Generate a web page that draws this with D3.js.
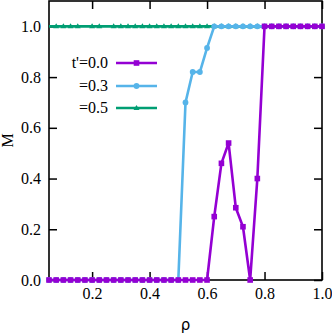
<!DOCTYPE html>
<html><head><meta charset="utf-8">
<script src="https://cdn.jsdelivr.net/npm/d3@7"></script>
<style>body{margin:0;background:#fff}svg{display:block}</style>
</head><body>
<svg id="c" width="332" height="335"></svg>
<script>
const rho = [0.05,0.075,0.1,0.125,0.15,0.175,0.2,0.225,0.25,0.275,0.3,0.325,0.35,0.375,0.4,0.425,0.45,0.475,0.5,0.525,0.55,0.575,0.6,0.625,0.65,0.675,0.7,0.725,0.75,0.775,0.8,0.825,0.85,0.875,0.9,0.925,0.95,0.975,1.0];
const m00 = [0,0,0,0,0,0,0,0,0,0,0,0,0,0,0,0,0,0,0,0,0,0,0,0.25,0.46,0.54,0.285,0.21,0,0.40,1,1,1,1,1,1,1,1,1];
const m03 = [0,0,0,0,0,0,0,0,0,0,0,0,0,0,0,0,0,0,0,0.70,0.82,0.82,0.915,1,1,1,1,1,1,1,1,1,1,1,1,1,1,1,1];
const m05 = [1,1,1,1,1,1,1,1,1,1,1,1,1,1,1,1,1,1,1,1,1,1,1,1,1,1,1,1,1,1,1,1,1,1,1,1,1,1,1];
const m05NoMarker = [0.05,0.175,0.25];
const xTicks = [0.2,0.4,0.6,0.8,1.0];
const yTicks = [0.0,0.2,0.4,0.6,0.8,1.0];
const legendLabels = ["t'=0.0","=0.3","=0.5"];

const W=332,H=335,ml=49,mr=10,mt=1,mb=55;
const SERIF="'Liberation Serif'";
const svg=d3.select("#c");
const x=d3.scaleLinear().domain([0.05,1.0]).range([ml,W-mr]);
const y=d3.scaleLinear().domain([0,1.1]).range([H-mb,mt]);

const series=[
  {vals:m05,color:"#009E73",shape:"tri",skip:m05NoMarker},
  {vals:m03,color:"#56B4E9",shape:"circ",skip:[]},
  {vals:m00,color:"#9400D3",shape:"sq",skip:[]}
];

function marker(g,shape,cx,cy,color){
  if(shape==="sq") g.append("rect").attr("x",cx-2.8).attr("y",cy-2.8).attr("width",5.6).attr("height",5.6).attr("fill",color);
  else if(shape==="circ") g.append("circle").attr("cx",cx).attr("cy",cy).attr("r",2.9).attr("fill",color);
  else g.append("path").attr("d",`M${cx-3},${cy+2}L${cx+3},${cy+2}L${cx},${cy-3}Z`).attr("fill",color);
}

const gx=svg.append("g").attr("transform",`translate(0,${H-mb})`)
  .call(d3.axisBottom(x).tickValues(xTicks).tickFormat(d3.format(".1f")).tickSizeInner(-8).tickSizeOuter(0).tickPadding(14));
const gxt=svg.append("g").attr("transform",`translate(0,${mt})`)
  .call(d3.axisTop(x).tickValues(xTicks).tickFormat("").tickSizeInner(-8).tickSizeOuter(0));
const gy=svg.append("g").attr("transform",`translate(${ml},0)`)
  .call(d3.axisLeft(y).tickValues(yTicks).tickFormat(d3.format(".1f")).tickSizeInner(-8).tickSizeOuter(0).tickPadding(8));
const gyr=svg.append("g").attr("transform",`translate(${W-mr},0)`)
  .call(d3.axisRight(y).tickValues(yTicks).tickFormat("").tickSizeInner(-8).tickSizeOuter(0));
[gx,gxt,gy,gyr].forEach(g=>{
  g.attr("font-family",SERIF).attr("font-size",16);
  g.select(".domain").remove();
  g.selectAll(".tick line").attr("stroke","#000").attr("stroke-width",1.5);
  g.selectAll("text").style("font-family",SERIF).style("font-size","16px").attr("fill","#000");
});
gx.selectAll("text").attr("dy","0.3em");
svg.append("rect").attr("x",ml).attr("y",mt).attr("width",W-mr-ml).attr("height",H-mb-mt)
  .attr("fill","none").attr("stroke","#000").attr("stroke-width",1.6);

const line=d3.line().x(d=>x(d[0])).y(d=>y(d[1]));
series.forEach(s=>{
  const pts=rho.map((r,i)=>[r,s.vals[i]]);
  svg.append("path").attr("d",line(pts)).attr("fill","none").attr("stroke",s.color).attr("stroke-width",2.6).attr("stroke-linejoin","round");
  const g=svg.append("g");
  pts.forEach(p=>{ if(!s.skip.includes(p[0])) marker(g,s.shape,x(p[0]),y(p[1]),s.color); });
});

const legY=[63,86,108];
const legSeries=[series[2],series[1],series[0]];
legendLabels.forEach((t,i)=>{
  svg.append("text").attr("x",108).attr("y",legY[i]+5).attr("text-anchor","end")
    .style("font-family",SERIF).style("font-size","16px").text(t);
  svg.append("line").attr("x1",116).attr("x2",157).attr("y1",legY[i]).attr("y2",legY[i])
    .attr("stroke",legSeries[i].color).attr("stroke-width",2.6);
  marker(svg,legSeries[i].shape,136.5,legY[i],legSeries[i].color);
});

svg.append("text").attr("transform",`translate(13,${(mt+H-mb)/2}) rotate(-90)`).attr("text-anchor","middle")
  .style("font-family",SERIF).style("font-size","16px").text("M");
svg.append("text").attr("x",(ml+W-mr)/2).attr("y",330).attr("text-anchor","middle")
  .style("font-family","'DejaVu Sans'").style("font-size","15px").text("ρ");
</script>
</body></html>
